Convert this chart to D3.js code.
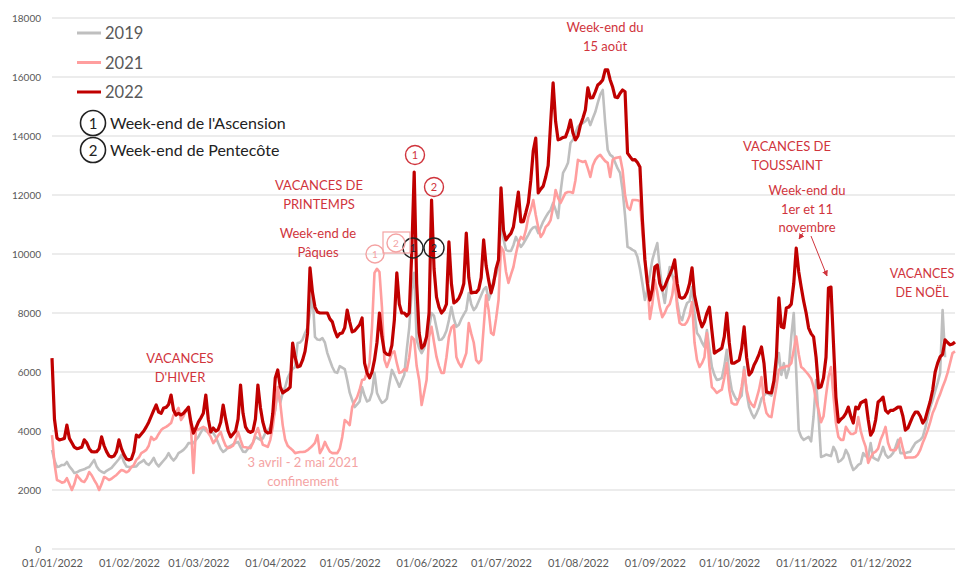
<!DOCTYPE html>
<html><head><meta charset="utf-8">
<script src="https://cdn.jsdelivr.net/npm/d3@7"></script>
<style>body{margin:0;background:#fff}svg text{font-family:Lato,"Liberation Sans",sans-serif}</style>
</head><body><svg id="c" width="957" height="569"></svg>
<script>
// ---- DATA ----
const monthTicks = ["2022-01-01","2022-02-01","2022-03-01","2022-04-01","2022-05-01","2022-06-01","2022-07-01","2022-08-01","2022-09-01","2022-10-01","2022-11-01","2022-12-01"];
const yTicks = [0,2000,4000,6000,8000,10000,12000,14000,16000,18000];
const seriesNames = ["2019","2021","2022"];

const v2019 = [
3360,3000,2780,2800,2850,2850,2950, 2800,2700,2580,2600,2650,2680,2700, 2750,2780,2900,3020,2800,2680,2620,
2580,2650,2700,2750,2850,2950,3050, 3190,2950,2800,2780,2780,2790,2800, 2900,2950,3020,2900,2850,2950,3090,
2900,2800,2900,3000,3100,3250,3100, 3000,3100,3250,3300,3360,3450,3590, 3590,3590,3700,3800,3950,4100,4000,
3970,3950,3930,3800,3590,3400,3290, 3350,3450,3500,3550,3600,3630,3450, 3300,3290,3400,3500,3600,3800,3750,
3700,3750,3930,4000,4140,4400,4710, 5390,4950,5300,5490,5800,5970,6100, 6170,6980,7000,7100,7320,7500,8000,
8680,7190,7100,7090,7150,7000,6640, 6400,6170,6000,5970,6200,6150,6100, 5730,5300,5050,4810,4900,5000,5490,
5200,5000,5050,5300,5970,5290,5100, 4950,5000,5100,5600,6070,5900,5700, 5500,5700,5900,6750,7500,8780,9360,
7090,6800,6640,6800,7100,7500,8000, 7900,7500,7090,7100,7200,7400,7760, 8200,7800,7530,7600,7800,7950,8100,
8680,8300,8100,8200,8400,8600,8800, 8880,8440,8700,9120,9300,9560,11150, 10500,10140,10100,10100,10300,10580,10400,
10240,10350,10500,10650,10810,10900,10920, 10710,10900,11100,11250,11390,11500,11730, 11500,11220,12100,12750,12900,13090,13760,
13870,14100,14310,14400,14440,14500,14610, 14370,14600,14810,15120,15400,15560,14440, 13530,13360,13300,13100,12900,12750,12170,
11300,10240,10200,10140,10100,9900,9500, 9000,8440,8800,9300,9800,10100,10370, 9500,8800,8340,9000,9560,9300,9000,
8400,7900,7760,8100,8340,8400,8880, 8000,7320,7200,7000,6850,7420,6800, 6170,5900,5730,5750,5800,6200,6750,
5900,5390,5200,5050,5100,5200,6170, 5300,4810,4600,4440,4600,4800,5100, 5200,5290,5250,5200,5500,6100,6640,
5900,6300,5800,6100,7200,8000,6000, 4030,3800,3700,3750,3800,3650,4500, 5730,4500,3120,3150,3200,3180,3150,
3460,3300,2950,3000,3100,3360,3200, 2900,2680,2750,2850,2900,3250,3150, 3100,3590,3100,3050,3000,3200,3460,
3200,3100,3150,3250,3450,3700,3250, 3250,3250,3280,3300,3450,3590,3650, 3700,3800,4100,4470,4800,5050,5350,
5630,5970,8100,6500
];

const v2021 = [
3860,2900,2340,2300,2250,2270,2400, 2200,2000,2200,2510,2400,2300,2270, 2400,2610,2500,2340,2200,2000,2200,
2440,2400,2340,2380,2450,2510,2600, 2680,2650,2600,2650,2780,2850,3020, 3100,3250,3300,3360,3500,3800,3700,
3750,3900,4030,4100,4140,4200,4270, 4540,4650,4780,4370,4500,4700,4780, 4140,2580,4030,4050,4100,4140,4100,
3930,3800,3590,3700,3850,3970,3700, 3500,3420,3450,3500,3700,3970,3700, 3460,3450,3430,3420,3600,3900,4100,
3800,3530,3500,3460,3700,4140,4800, 5490,4950,4200,3700,3500,3420,3350, 3250,3270,3290,3290,3300,3350,3420,
3500,3600,3860,3250,3400,3630,3450, 3300,3250,3250,3250,3400,3800,4370, 4300,4200,4810,5000,5150,5400,5730,
5750,6000,6300,7530,9360,9500,9390, 8200,6410,6170,6400,6640,6700,6300, 5970,6000,6100,6050,6500,7190,7100,
6200,5730,4880,5300,5730,7190,7530, 7000,6510,6200,5970,5970,6500,7190, 7500,7590,6510,6300,6170,6400,6640,
7660,7300,7000,6400,6300,6400,7500, 8600,8100,7320,7260,7800,8440,10240, 10100,9400,9020,9300,9560,10000,10370,
10580,10500,10800,11250,11500,11830,11320, 10900,10580,10700,10920,11000,11150,11590, 12170,11900,11730,11900,12070,12100,12100,
12070,12500,13190,13150,13120,13150,12900, 12610,13000,13190,13300,13360,13250,13150, 13090,12610,13190,13250,13270,13290,12850,
12000,11590,11500,11830,11830,11820,11800, 10710,9800,9120,7800,8300,9120,8700, 8200,7860,8000,8200,8300,8600,9220,
8200,7660,7600,7600,7700,7900,8370, 7000,6410,6170,6300,6500,7320,6200, 5490,5400,5290,5350,5400,5800,6300,
5400,4950,4900,4900,5100,5500,6070, 5400,5050,4900,4810,5100,5400,5830, 5000,4610,4500,4470,5000,5490,6070,
6150,6150,6200,6200,6300,6750,7200, 6600,6170,6100,6000,5900,5780,5500, 5050,4710,4300,4500,5200,5830,6170,
5200,4270,3800,3700,3700,4140,4000, 3900,3900,3950,4470,4000,3700,3460, 2920,3100,3250,3300,3400,3700,3900,
4140,3600,3360,3350,3350,3500,3760, 3400,3090,3100,3100,3100,3120,3200, 3360,3600,3800,4030,4300,4610,4800,
5050,5250,5490,5700,5970,6300,6640,6700
];

const v2022 = [
6470,4400,3760,3700,3720,3750,4200, 3750,3600,3450,3400,3420,3450,3700, 3600,3400,3300,3290,3300,3400,3800,
3500,3300,3150,3120,3150,3300,3700, 3400,3200,3050,3020,3050,3300,3860, 3800,3900,4000,4140,4300,4500,4700,
4880,4640,4600,4780,4800,4900,5220, 4700,4540,4600,4550,4600,4700,4810, 4300,3930,4100,4300,4440,4600,5220,
4400,3970,4100,4000,4050,4300,4880, 4400,4000,3800,3900,4000,4400,5560, 4600,4140,4000,3950,4000,4400,5560,
4800,4300,4000,3930,3950,4600,5800, 6070,5500,5290,5350,5400,5490,6980, 6500,6170,6200,6400,6700,7300,9530,
8700,8200,8030,8000,8000,8000,8000, 7800,7700,7400,7190,7300,7320,7500, 8100,7700,7360,7400,7500,7600,7830,
6300,5970,5800,6000,6410,7000,8000, 7200,6680,6600,6580,6900,7760,9360, 8300,8000,8000,7900,8000,10000,12780,
9000,7320,6810,6900,7200,8000,11830, 9500,8540,8200,8000,8100,8300,10410, 9000,8340,8400,8500,8700,9000,10710,
9200,8680,8700,8700,8800,9200,10480, 9600,9120,8680,9000,9500,9800,12240, 10800,10480,10600,10700,10920,11500,12100,
11090,11100,11400,11730,12500,13500,13930, 12070,12200,12300,12610,13000,14440,15800, 14500,13870,13900,13950,13970,14200,14540,
14100,13870,14000,14370,14600,14880,15630, 15290,15300,15500,15730,15800,15900,16240, 16240,15900,15660,15320,15300,15450,15560,
15500,13420,13300,13190,13200,13100,12950, 11150,9800,9000,8440,8800,9560,9630, 9000,8780,8900,9120,9300,9500,9800,
9000,8540,8500,8540,8700,9000,9530, 8600,8200,7800,7530,7700,8000,8200, 7400,6640,6700,6750,6810,7200,8000,
7000,6300,6300,6350,6400,6800,7530, 6500,5900,6000,6240,6400,6600,6850, 6300,5320,5300,5290,5700,6510,8510,
7530,7500,8170,8200,8300,9000,10200, 9400,8880,8400,8000,7490,7300,7190, 6500,5460,5500,5800,6500,8850,8880,
7000,5150,4300,4400,4470,4600,4810, 4500,4270,4810,4750,4950,5000,5050, 4400,3860,4000,4370,4980,5050,5150,
4700,4610,4700,4700,4750,4810,4810, 4500,4030,4100,4300,4500,4640,4640, 4500,4270,4400,4710,5000,5390,6000,
6300,6510,6600,7090,7000,6920,6950,7020
];

const colors = {"2019":"#BFBFBF","2021":"#FF9E9E","2022":"#C00000"};
const widths = {"2019":2.6,"2021":2.6,"2022":3.2};

// ---- CHART ----
const svg = d3.select("#c");
const t0 = new Date(2022,0,1);
const x = d3.scaleTime().domain([t0, new Date(2022,11,31)]).range([52,955]);
const y = d3.scaleLinear().domain([0,18000]).range([549,18]);
const dateOf = i => d3.timeDay.offset(t0, i);

// gridlines
svg.append("g").selectAll("line").data(yTicks).join("line")
  .attr("x1",52).attr("x2",955).attr("y1",d=>y(d)).attr("y2",d=>y(d))
  .attr("stroke","#D9D9D9").attr("stroke-width",1.2);

// axes
const xa = svg.append("g").attr("transform","translate(0,549)")
  .call(d3.axisBottom(x).tickValues(monthTicks.map(s=>d3.timeParse("%Y-%m-%d")(s)))
    .tickFormat(d3.timeFormat("%d/%m/%Y")).tickSize(0).tickPadding(10));
xa.select(".domain").remove();
xa.selectAll("text").attr("fill","#595959").style("font-size","11px");

const ya = svg.append("g").attr("transform","translate(41,0)")
  .call(d3.axisLeft(y).tickValues(yTicks).tickFormat(d3.format("d")).tickSize(0).tickPadding(0));
ya.select(".domain").remove();
ya.selectAll("text").attr("fill","#595959").style("font-size","10px");

// lines
const line = d3.line().x((d,i)=>x(dateOf(i))).y(d=>y(d)).curve(d3.curveLinear);
const dataMap = {"2019":v2019,"2021":v2021,"2022":v2022};
seriesNames.forEach(n=>{
  svg.append("path").datum(dataMap[n]).attr("d",line)
    .attr("fill","none").attr("stroke",colors[n]).attr("stroke-width",widths[n])
    .attr("stroke-linejoin","round");
});

// legend
const lg = svg.append("g");
seriesNames.forEach((n,i)=>{
  const yy = 33 + i*29.5;
  lg.append("line").attr("x1",77).attr("x2",101).attr("y1",yy).attr("y2",yy)
    .attr("stroke",colors[n]).attr("stroke-width",3);
  lg.append("text").attr("x",105).attr("y",yy+6).text(n)
    .attr("fill","#595959").style("font-size","16.5px");
});
const legNotes = [["1","Week-end de l'Ascension",123],["2","Week-end de Pentecôte",150]];
legNotes.forEach(([k,t,yy])=>{
  lg.append("circle").attr("cx",93).attr("cy",yy).attr("r",12.5).attr("fill","none").attr("stroke","#222").attr("stroke-width",1.6);
  lg.append("text").attr("x",93).attr("y",yy+5.5).attr("text-anchor","middle").text(k).attr("fill","#222").style("font-size","15px");
  lg.append("text").attr("x",110).attr("y",yy+5.5).text(t).attr("fill","#222").style("font-size","16px");
});

// annotations
const red = "#D0343C", pink = "#F4A3A3";
function label(lines, cx, cy, color, size, anchor){
  lines.forEach((s,i)=>{
    svg.append("text").attr("x",cx).attr("y",cy + i*18.5).attr("text-anchor",anchor||"middle")
      .text(s).attr("fill",color).style("font-size",(size||13)+"px");
  });
}
label(["VACANCES","D'HIVER"],180,363,red);
label(["VACANCES DE","PRINTEMPS"],319,190,red);
label(["Week-end de","Pâques"],318,238,red);
label(["3 avril - 2 mai 2021","confinement"],303,467,pink);
label(["Week-end du","15 août"],605,32,red);
label(["VACANCES DE","TOUSSAINT"],787,151,red);
label(["Week-end du","1er et 11","novembre"],807,195,red);
label(["VACANCES","DE NOËL"],922,278,red,12.5);

function circ(cx,cy,r,col,k,fs){
  svg.append("circle").attr("cx",cx).attr("cy",cy).attr("r",r).attr("fill","none").attr("stroke",col).attr("stroke-width",1.4);
  svg.append("text").attr("x",cx).attr("y",cy+4).attr("text-anchor","middle").text(k).attr("fill",col).style("font-size",(fs||11)+"px");
}
circ(415,155,9.5,red,"1");
circ(434,187,9.5,red,"2");
circ(413,248,10,"#222","1");
circ(434,248,10,"#222","2");
svg.append("rect").attr("x",383).attr("y",232).attr("width",27).attr("height",21).attr("fill","none").attr("stroke",pink).attr("stroke-width",1.2);
circ(375,254,9,pink,"1",10);
circ(396,243,9,pink,"2",10);

// arrows
svg.append("defs").append("marker").attr("id","ah").attr("viewBox","0 0 10 10").attr("refX",9).attr("refY",5)
  .attr("markerWidth",6).attr("markerHeight",6).attr("orient","auto")
  .append("path").attr("d","M0,0L10,5L0,10z").attr("fill",red);
svg.append("line").attr("x1",803).attr("y1",233).attr("x2",799).attr("y2",239).attr("stroke",red).attr("stroke-width",1).attr("marker-end","url(#ah)");
svg.append("line").attr("x1",811).attr("y1",236).attr("x2",827).attr("y2",276).attr("stroke",red).attr("stroke-width",1).attr("marker-end","url(#ah)");
</script></body></html>
